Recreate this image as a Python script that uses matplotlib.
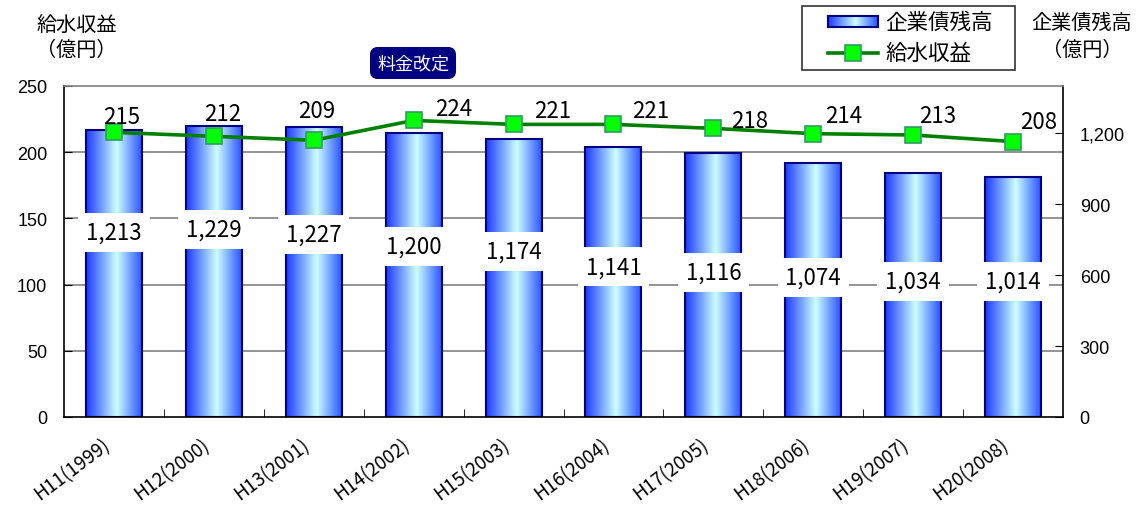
import numpy as np
import matplotlib
matplotlib.use("Agg")
import matplotlib.pyplot as plt
from matplotlib.colors import LinearSegmentedColormap
from matplotlib.patches import Rectangle
from matplotlib.lines import Line2D
from matplotlib.transforms import blended_transform_factory, ScaledTranslation
from matplotlib.ticker import FuncFormatter

plt.rcParams['font.family'] = ['Noto Sans CJK JP', 'DejaVu Sans']

# ---- data ----
years = ["H11(1999)", "H12(2000)", "H13(2001)", "H14(2002)", "H15(2003)",
         "H16(2004)", "H17(2005)", "H18(2006)", "H19(2007)", "H20(2008)"]
debt = [1213, 1229, 1227, 1200, 1174, 1141, 1116, 1074, 1034, 1014]      # 企業債残高 (億円)
revenue = [215, 212, 209, 224, 221, 221, 218, 214, 213, 208]             # 給水収益 (億円)

# heights (right-axis units) at which the debt value labels sit
debt_label_y = [781, 793, 772, 721, 700, 636, 611, 590, 573, 573]
# pixel offsets of the revenue labels from their markers
rev_label_off = [(8, 16), (9, 23), (3, 30), (40, 12), (39, 14),
                 (37, 14), (36, 8), (30, 18), (25, 19), (26, 20)]

W, H = 1141, 510
fig = plt.figure(figsize=(W / 100, H / 100), dpi=100, facecolor='white')


def fx(px):
    return px / W


def fy(py):
    return 1 - py / H


ax = fig.add_axes([fx(64), fy(418), fx(1063 - 64), (418 - 87) / H])
ax2 = ax.twinx()
ax.set_zorder(ax2.get_zorder() + 1)
ax.patch.set_visible(False)
ax2.patch.set_visible(True)
ax2.patch.set_facecolor('white')

x = np.arange(len(years))
bar_w = 0.56

# gradient-filled bars (right axis)
cmap = LinearSegmentedColormap.from_list(
    'barfill', [(0.0, '#1a38ff'), (0.55, '#ccffff'), (1.0, '#2a52ff')])
grad = np.linspace(0, 1, 256).reshape(1, -1)
bars = ax2.bar(x, debt, width=bar_w, facecolor='none',
               edgecolor='#000080', linewidth=1.5, zorder=3)
for b in bars:
    x0, w, h = b.get_x(), b.get_width(), b.get_height()
    ax2.imshow(grad, cmap=cmap, aspect='auto', extent=(x0, x0 + w, 0, h),
               zorder=2, interpolation='bilinear')

ax.set_xlim(-0.5, len(years) - 0.5)
ax2.set_xlim(-0.5, len(years) - 0.5)
ax.set_ylim(0, 250)
ax2.set_ylim(0, 1400)

# horizontal gridlines of the left axis, drawn beneath the bars
gtr = blended_transform_factory(ax2.transAxes, ax.transData)
for v in [50, 100, 150, 200]:
    ax2.plot([0, 1], [v, v], transform=gtr, color='#808080', lw=1.2, zorder=1)

# debt value labels on white boxes
for xi, v, ly in zip(x, debt, debt_label_y):
    ax2.text(xi, ly, f"{v:,}", ha='center', va='center', fontsize=16,
             color='black', zorder=4,
             bbox=dict(boxstyle='square,pad=0.35', fc='white', ec='none'))

# revenue line (left axis)
ax.plot(x, revenue, color='#008000', lw=2.6, marker='s', ms=11.5,
        mfc='#00ff00', mec='#339966', mew=1.2, zorder=5)
for xi, v, (dx, dy) in zip(x, revenue, rev_label_off):
    ax.annotate(f"{v}", (xi, v), xytext=(dx, dy), textcoords='offset pixels',
                ha='center', va='center', fontsize=16, color='black', zorder=6)

# axes styling
for name, sp in ax.spines.items():
    sp.set_color('black')
    sp.set_linewidth(1.2)
ax.spines['top'].set_color('#808080')
for sp in ax2.spines.values():
    sp.set_visible(False)

ax.set_yticks([0, 50, 100, 150, 200, 250])
ax.tick_params(axis='y', direction='in', length=6, pad=12, labelsize=13,
               colors='black')
for lab in ax.get_yticklabels():
    lab.set_family(['Liberation Sans', 'DejaVu Sans'])

ax2.set_yticks([0, 300, 600, 900, 1200])
ax2.yaxis.set_major_formatter(FuncFormatter(lambda v, p: f"{int(v):,}"))
ax2.tick_params(axis='y', direction='in', length=6, pad=12, labelsize=13)
for lab in ax2.get_yticklabels():
    lab.set_family(['Liberation Sans', 'DejaVu Sans'])

ax.set_xticks(x)
ax.set_xticklabels(years, rotation=37, ha='right', va='top',
                   rotation_mode='anchor', fontsize=13.5)
ax.tick_params(axis='x', which='major', length=0, pad=12)
shift = ScaledTranslation(-0.13, 0, fig.dpi_scale_trans)
for lab in ax.get_xticklabels():
    lab.set_transform(lab.get_transform() + shift)
ax.set_xticks(x[:-1] + 0.5, minor=True)
ax.tick_params(axis='x', which='minor', direction='in', length=6,
               color='black')

# axis titles
fig.text(fx(77), fy(25), "給水収益", ha='center', va='center', fontsize=14.5)
fig.text(fx(76), fy(50), "（億円）", ha='center', va='center', fontsize=14.5)
fig.text(fx(1082), fy(23), "企業債残高", ha='center', va='center', fontsize=14.5)
fig.text(fx(1082), fy(50), "（億円）", ha='center', va='center', fontsize=14.5)

# tariff revision marker
fig.text(fx(413), fy(64), "料金改定", ha='center', va='center', fontsize=13,
         color='white',
         bbox=dict(boxstyle='round,pad=0.35,rounding_size=0.4',
                   fc='#000080', ec='#000080'))

# legend
fig.patches.append(Rectangle((fx(802), fy(71)), fx(1015 - 802), (71 - 7) / H,
                             transform=fig.transFigure, fc='white',
                             ec='#333333', lw=1.2, zorder=5))
lax = fig.add_axes([fx(828), fy(28), fx(50), 11 / H], zorder=6)
lax.imshow(grad, cmap=cmap, aspect='auto', interpolation='bilinear')
lax.set_xticks([])
lax.set_yticks([])
for sp in lax.spines.values():
    sp.set_color('#000080')
    sp.set_linewidth(1.5)
fig.lines.append(Line2D([fx(828), fx(878)], [fy(54), fy(54)],
                        transform=fig.transFigure, color='#008000', lw=2.6,
                        zorder=6))
fig.lines.append(Line2D([fx(853)], [fy(54)], transform=fig.transFigure,
                        marker='s', ms=11.5, mfc='#00ff00', mec='#339966',
                        mew=1.2, zorder=7))
fig.text(fx(885), fy(23), "企業債残高", ha='left', va='center', fontsize=15.5,
         zorder=8)
fig.text(fx(885), fy(54), "給水収益", ha='left', va='center', fontsize=15.5,
         zorder=8)

fig.savefig("out.png", dpi=100, facecolor='white')
